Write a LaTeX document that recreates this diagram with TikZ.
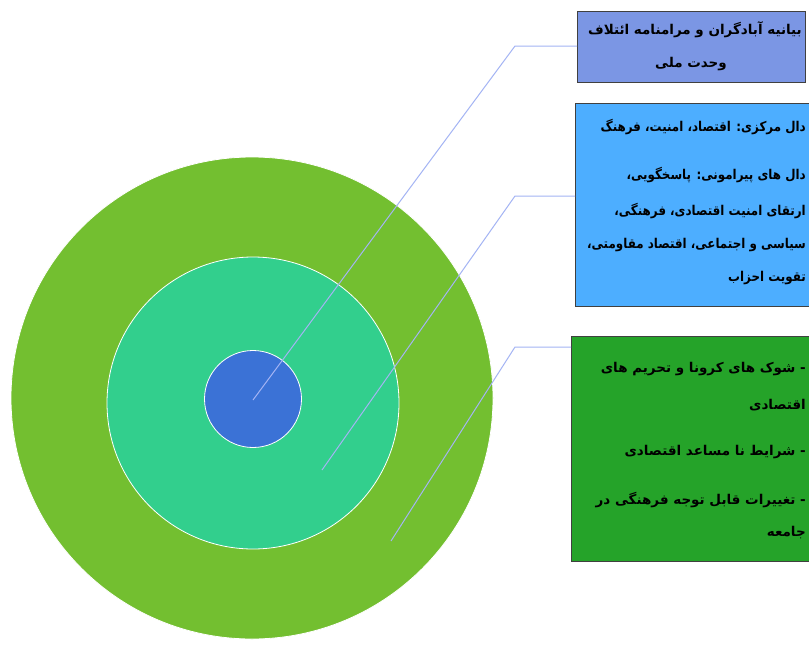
\documentclass[tikz,border=0pt]{standalone}
\usepackage{fontspec}
\newfontfamily\arabicfont[Script=Arabic]{DejaVu Sans}
\TeXXeTstate=1
\definecolor{outerg}{HTML}{73BF30}
\definecolor{midg}{HTML}{32CF8D}
\definecolor{innerb}{HTML}{3B72D6}
\definecolor{boxa}{HTML}{7B96E4}
\definecolor{boxb}{HTML}{4DAEFF}
\definecolor{boxc}{HTML}{25A329}
\definecolor{leader}{HTML}{A4B4F4}
\definecolor{frame}{HTML}{404040}
\newcommand{\narrowline}[1]{\scalebox{0.88}[1]{#1}}
\tikzset{
  ring/.style={circle, draw=white, line width=0.8pt, inner sep=0pt},
  infobox/.style={rectangle, draw=frame, line width=1.2pt, inner sep=0pt, anchor=north west},
  leaderline/.style={draw=leader, line width=1pt},
  txt/.style={anchor=east, inner sep=0pt, font=\arabicfont\bfseries\fontsize{13.5}{15}\selectfont}
}
\begin{document}
\begin{tikzpicture}[x=1pt,y=-1pt]
\useasboundingbox (0,0) rectangle (809,646);
\clip (0,0) rectangle (809,646);
\fill[white] (0,0) rectangle (809,646);
% circles
\node[ring, fill=outerg, minimum size=482pt] (outer) at (252,398) {};
\node[ring, fill=midg, minimum size=292pt] (mid) at (253,403) {};
\node[ring, fill=innerb, minimum size=97pt] (inner) at (253,399) {};
% boxes
\node[infobox, fill=boxa, minimum width=228pt, minimum height=71pt] (b1) at (577,11) {};
\node[infobox, fill=boxb, minimum width=250pt, minimum height=203pt] (b2) at (575,103) {};
\node[infobox, fill=boxc, minimum width=250pt, minimum height=225pt] (b3) at (571,336) {};
% leader lines
\coordinate (p1) at (253,400);
\coordinate (k1) at (515,46);
\coordinate (p2) at (322,470);
\coordinate (k2) at (515,196);
\coordinate (p3) at (391,541);
\coordinate (k3) at (515,347);
\draw[leaderline] (p1) -- (k1) -- (k1 -| b1.west);
\draw[leaderline] (p2) -- (k2) -- (k2 -| b2.west);
\draw[leaderline] (p3) -- (k3) -- (k3 -| b3.west);
% box 1 text
\node[txt] (t11) at (802,30) {\beginR بیانیه آبادگران و مرامنامه ائتلاف\endR};
\node[txt, anchor=center] (t12) at (691,64) {\beginR وحدت ملی\endR};
% box 2 text
\node[txt] (t21) at (806,127) {\narrowline{\beginR دال مرکزی: اقتصاد، امنیت، فرهنگ\endR}};
\node[txt] (t22) at (806,175) {\narrowline{\beginR دال های پیرامونی: پاسخگویی،\endR}};
\node[txt] (t23) at (806,211) {\narrowline{\beginR ارتقای امنیت اقتصادی، فرهنگی،\endR}};
\node[txt] (t24) at (806,245) {\narrowline{\beginR سیاسی و اجتماعی، اقتصاد مقاومتی،\endR}};
\node[txt] (t25) at (806,278) {\narrowline{\beginR تقویت احزاب\endR}};
% box 3 text
\node[txt] (t31) at (806,369) {\beginR - شوک های کرونا و تحریم های\endR};
\node[txt] (t32) at (806,405) {\beginR اقتصادی\endR};
\node[txt] (t33) at (806,452) {\beginR - شرایط نا مساعد اقتصادی\endR};
\node[txt] (t34) at (806,500) {\beginR - تغییرات قابل توجه فرهنگی در\endR};
\node[txt] (t35) at (806,533) {\beginR جامعه\endR};
\end{tikzpicture}
\end{document}
